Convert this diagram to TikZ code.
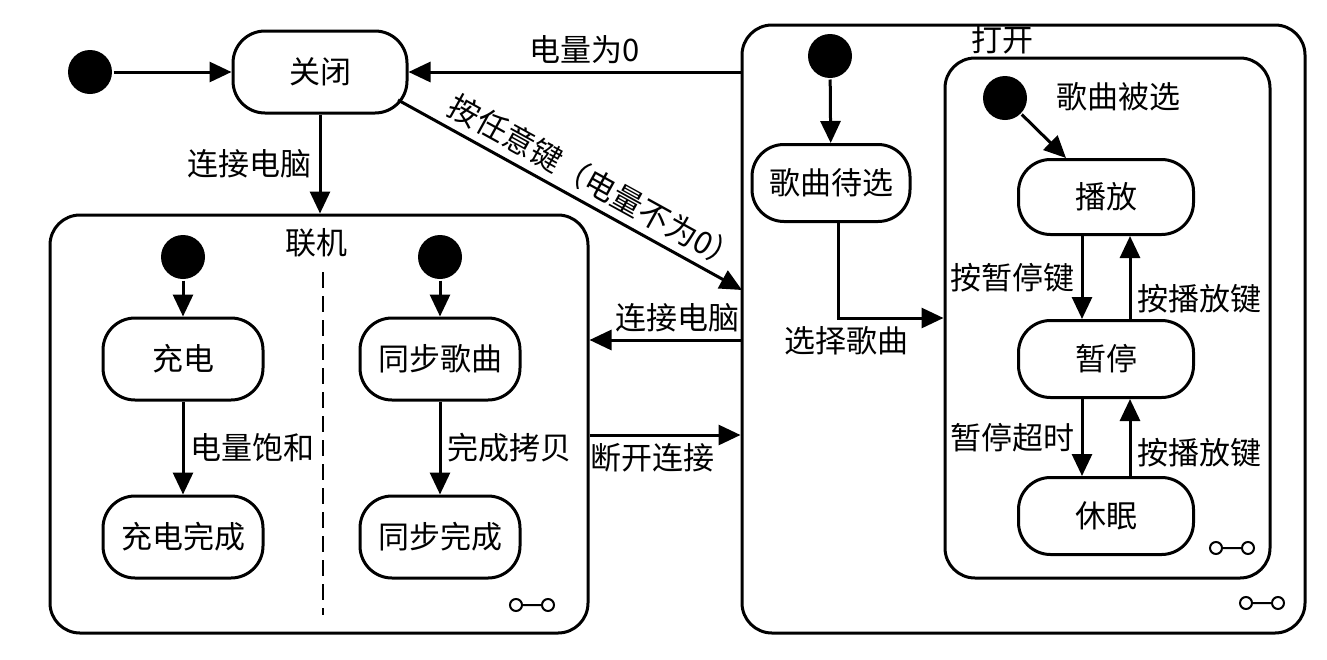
\documentclass[tikz,border=0pt]{standalone}
\usepackage{fontspec}
\usepackage{tikz}
\usetikzlibrary{arrows.meta}
\newfontfamily\cjk{Noto Sans CJK SC}
\newcommand{\subicon}[1]{\draw[line width=1pt] #1 ++(-16,0) circle[radius=3pt] ++(6,0) -- ++(20,0) ++(6,0) circle[radius=3pt];}

\begin{document}
\begin{tikzpicture}[x=.5pt,y=-.5pt,>={Triangle[length=11pt,width=10pt]},line width=1.5pt,
  every node/.style={font=\cjk\fontsize{15.5}{18}\selectfont},
  state/.style={draw,rounded corners=16pt,minimum width=80pt,minimum height=41pt,inner sep=0pt},
  comp/.style={draw,rounded corners=15pt,inner sep=0pt},
  init/.style={circle,fill,minimum size=22pt,inner sep=0pt}]
\useasboundingbox (0,0) rectangle (1327,659);
\node[init] (i0) at (90,72) {};
\node[state,minimum width=87pt] (close) at (320,72) {关闭};
\node[comp,minimum width=269pt,minimum height=209pt] (online) at (319,424) {};
\node (onlinelbl) at (316,243) {联机};
\node[init] (i1) at (183,257) {};
\node[state] (charge) at (183,359) {充电};
\node[state] (charged) at (183,537) {充电完成};
\node[init] (i2) at (440,257) {};
\node[state] (sync) at (440,359) {同步歌曲};
\node[state] (synced) at (440,537) {同步完成};
\node[comp,minimum width=281.5pt,minimum height=304pt] (open) at (1023.5,329) {};
\node (openlbl) at (1002,40) {打开};
\node[init] (i3) at (830,56) {};
\node[state,minimum width=79pt,minimum height=38.5pt] (waiting) at (831,183) {歌曲待选};
\node[comp,minimum width=162.5pt,minimum height=260pt] (chosen) at (1107.5,318) {};
\node (chosenlbl) at (1118,97) {歌曲被选};
\node[init] (i4) at (1005,98) {};
\node[state,minimum width=87.5pt,minimum height=37.5pt] (play) at (1106,197) {播放};
\node[state,minimum width=87.5pt,minimum height=38.5pt] (pause) at (1106,359) {暂停};
\node[state,minimum width=87.5pt,minimum height=38.5pt] (sleep) at (1106,516) {休眠};
\coordinate (k1) at (398,100);
\coordinate (k2) at (742,290);
\draw[->] (i0) -- (close);
\draw[->] (open.west |- close) -- node[above,pos=.47] {电量为0} (close);
\draw[->] (close) -- node[left] {连接电脑} (close |- online.north);
\draw[->] (k1) -- node[above,sloped,pos=.54] {按任意键（电量不为0）} (k2);
\draw[->] (open.west |- 0,340) -- node[above,pos=.42] {连接电脑} (online.east |- 0,340);
\draw[->] (online.east |- 0,435) -- node[below,pos=.42] {断开连接} (open.west |- 0,435);
\draw[->] (i1) -- (charge);
\draw[->] (charge) -- node[right,inner sep=3pt] {电量饱和} (charged);
\draw[->] (i2) -- (sync);
\draw[->] (sync) -- node[right,inner sep=3pt] {完成拷贝} (synced);
\draw[dashed,dash pattern=on 8pt off 4pt,line width=1.2pt] (323,272) -- (323,615);
\draw[->] (i3) -- (waiting);
\draw[->] ([xshift=3.5pt]waiting.south) |- node[below,pos=.5,xshift=4pt] {选择歌曲} (chosen.west);
\draw[->] (i4) -- ([xshift=-20pt]play.north);
\draw[->] ([xshift=-12pt]play.south) -- node[left,inner sep=3pt] {按暂停键} ([xshift=-12pt]pause.north);
\draw[->] ([xshift=12pt]pause.north) -- node[right,pos=.25,inner sep=3pt] {按播放键} ([xshift=12pt]play.south);
\draw[->] ([xshift=-12pt]pause.south) -- node[left,inner sep=3pt] {暂停超时} ([xshift=-12pt]sleep.north);
\draw[->] ([xshift=12pt]sleep.north) -- node[right,pos=.3,inner sep=3pt] {按播放键} ([xshift=12pt]pause.south);
\subicon{(532,605)}
\subicon{(1262,603)}
\subicon{(1232,548)}
\end{tikzpicture}
\end{document}
